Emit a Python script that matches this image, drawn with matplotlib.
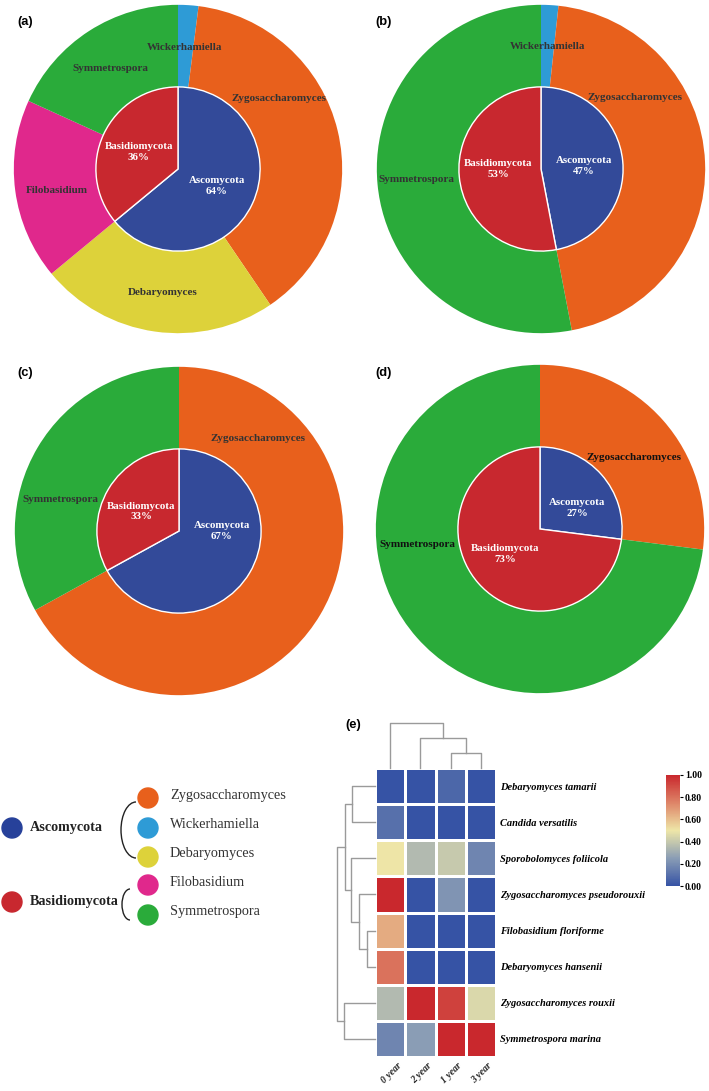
import numpy as np
import matplotlib
matplotlib.use('Agg')
import matplotlib.pyplot as plt
from matplotlib.colors import LinearSegmentedColormap
from matplotlib.patches import Circle, Arc

# ---- data ----
phyla = ['Ascomycota', 'Basidiomycota']
genera = ['Zygosaccharomyces', 'Wickerhamiella', 'Debaryomyces', 'Filobasidium', 'Symmetrospora']
genus_phylum = ['Ascomycota', 'Ascomycota', 'Ascomycota', 'Basidiomycota', 'Basidiomycota']

# outer ring, clockwise from 12 o'clock
a_outer_names = ['Wickerhamiella', 'Zygosaccharomyces', 'Debaryomyces', 'Filobasidium', 'Symmetrospora']
a_outer_vals = [2.0, 38.5, 23.5, 17.8, 18.2]
a_inner_vals = [64, 36]

b_outer_names = ['Wickerhamiella', 'Zygosaccharomyces', 'Symmetrospora']
b_outer_vals = [1.7, 45.3, 53.0]
b_inner_vals = [47, 53]

c_outer_names = ['Zygosaccharomyces', 'Symmetrospora']
c_outer_vals = [67, 33]
c_inner_vals = [67, 33]

d_outer_names = ['Zygosaccharomyces', 'Symmetrospora']
d_outer_vals = [27, 73]
d_inner_vals = [27, 73]

species = ['Debaryomyces tamarii', 'Candida versatilis', 'Sporobolomyces foliicola',
           'Zygosaccharomyces pseudorouxii', 'Filobasidium floriforme', 'Debaryomyces hansenii',
           'Zygosaccharomyces rouxii', 'Symmetrospora marina']
years = ['0 year', '2 year', '1 year', '3 year']
abund = [[0.00, 0.00, 0.07, 0.00],
         [0.10, 0.00, 0.00, 0.00],
         [0.50, 0.35, 0.40, 0.17],
         [1.00, 0.00, 0.22, 0.00],
         [0.65, 0.00, 0.00, 0.00],
         [0.80, 0.00, 0.00, 0.00],
         [0.35, 1.00, 0.93, 0.45],
         [0.17, 0.25, 1.00, 1.00]]

# clustering (child a, child b, height); leaves numbered in display order
row_merges = [(4, 5, 8), (3, 8, 16), (0, 1, 23), (2, 9, 24), (10, 11, 30), (6, 7, 31), (12, 13, 38)]
col_merges = [(2, 3, 15), (1, 4, 30), (0, 5, 45)]

colors = {'Zygosaccharomyces': '#E8601C', 'Wickerhamiella': '#2E9BD6', 'Debaryomyces': '#DDD23A',
          'Filobasidium': '#E0288C', 'Symmetrospora': '#2AAB3A',
          'Ascomycota': '#334A99', 'Basidiomycota': '#C8282F'}

serif = 'Liberation Serif'
W, H = 709, 1091
fig = plt.figure(figsize=(W / 100, H / 100), dpi=100)


def px_axes(cx, cy, r):
    return fig.add_axes([(cx - r) / W, 1 - (cy + r) / H, 2 * r / W, 2 * r / H])


def donut(ax, outer_names, outer_vals, inner_vals, out_ang, in_ang, lab_color):
    ax.pie(outer_vals, radius=1, startangle=90, counterclock=False,
           colors=[colors[n] for n in outer_names], wedgeprops=dict(width=0.5, linewidth=0))
    ax.pie(inner_vals, radius=0.5, startangle=90, counterclock=False,
           colors=[colors[p] for p in phyla], wedgeprops=dict(edgecolor='white', linewidth=1))
    for name, (ang, r) in zip(outer_names, out_ang):
        t = np.deg2rad(ang)
        ax.text(r * np.sin(t), r * np.cos(t), name, ha='center', va='center', fontsize=8,
                fontweight='bold', family=serif, color=lab_color)
    for p, v, ang in zip(phyla, inner_vals, in_ang):
        t = np.deg2rad(ang)
        ax.text(0.26 * np.sin(t), 0.26 * np.cos(t), f'{p}\n{v:.0f}%', ha='center', va='center',
                fontsize=7.8, fontweight='bold', family=serif, color='white', linespacing=1.25)
    ax.set_xlim(-1.005, 1.005)
    ax.set_ylim(-1.005, 1.005)
    ax.set_aspect('equal')
    ax.axis('off')


ax_a = px_axes(178, 169, 165)
donut(ax_a, a_outer_names, a_outer_vals, a_inner_vals,
      [(3, 0.74), (55, 0.75), (187, 0.76), (260, 0.75), (326, 0.74)], [114, 293], '#333333')
ax_b = px_axes(541, 169, 165)
donut(ax_b, b_outer_names, b_outer_vals, b_inner_vals,
      [(3, 0.75), (52.5, 0.72), (265, 0.76)], [86, 270], '#333333')
ax_c = px_axes(179, 531, 165)
donut(ax_c, c_outer_names, c_outer_vals, c_inner_vals,
      [(40.6, 0.74), (285, 0.75)], [90, 297], '#333333')
ax_d = px_axes(540, 529, 165)
donut(ax_d, d_outer_names, d_outer_vals, d_inner_vals,
      [(53, 0.72), (263, 0.75)], [60, 234], '#111111')

# ---- overlay for panel letters and legend ----
ov = fig.add_axes([0, 0, 1, 1])
ov.set_xlim(0, W)
ov.set_ylim(H, 0)
ov.axis('off')
ov.patch.set_alpha(0)
for lab, x, y in [('(a)', 17, 22), ('(b)', 375, 22), ('(c)', 17, 373), ('(d)', 375, 373), ('(e)', 345, 725)]:
    ov.text(x, y, lab, ha='left', va='center', fontsize=9.3, fontweight='bold', family='Liberation Sans')

phy_y = {'Ascomycota': 828, 'Basidiomycota': 902}
for p in phyla:
    ov.add_patch(Circle((12, phy_y[p]), 10, color=colors[p] if p == 'Basidiomycota' else '#27419A'))
    ov.text(30, phy_y[p], p, ha='left', va='center', fontsize=10.2, fontweight='bold',
            family=serif, color='#222222')
gen_y = [798, 828, 857, 885, 915]
for g, y in zip(genera, gen_y):
    ov.add_patch(Circle((148, y), 10, color=colors[g]))
    ov.text(170, y - 3, g, ha='left', va='center', fontsize=10.3, family=serif, color='#333333')
ov.add_patch(Arc((136, 830), 30, 56, theta1=90, theta2=270, color='#222222', lw=1))
ov.add_patch(Arc((130, 904.5), 16, 31, theta1=90, theta2=270, color='#222222', lw=1))

# ---- heatmap ----
cmap = LinearSegmentedColormap.from_list('fung', ['#3653A5', '#8A9DB5', '#EEE6A8', '#DE8468', '#C9282D'])
hx0, hx1, hy0, hy1 = 375, 496, 768, 1057
axh = fig.add_axes([hx0 / W, 1 - hy1 / H, (hx1 - hx0) / W, (hy1 - hy0) / H])
mesh = axh.pcolormesh(np.array(abund), cmap=cmap, vmin=0, vmax=1, edgecolors='white', linewidth=0.8)
axh.set_ylim(len(species), 0)
axh.set_xlim(0, len(years))
axh.yaxis.tick_right()
axh.set_yticks(np.arange(len(species)) + 0.5)
axh.set_yticklabels(species, fontsize=7.5, fontweight='bold', style='italic', family=serif)
axh.tick_params(axis='y', length=0, pad=3)
axh.set_xticks([])
for i, yr in enumerate(years):
    axh.text(i + 0.72, len(species) + 0.12, yr, rotation=45, rotation_mode='anchor', ha='right', va='top',
             fontsize=7, fontweight='bold', style='italic', family=serif, color='#222222')
for s in axh.spines.values():
    s.set_visible(False)


def dendro(ax, n, merges, vertical):
    pos = {i: i + 0.5 for i in range(n)}
    hgt = {i: 0 for i in range(n)}
    for k, (a, b, h) in enumerate(merges):
        xs = [pos[a], pos[a], pos[b], pos[b]]
        ys = [hgt[a], h, h, hgt[b]]
        if vertical:
            ax.plot(xs, ys, color='#9A9A9A', lw=1, clip_on=False)
        else:
            ax.plot(ys, xs, color='#9A9A9A', lw=1, clip_on=False)
        pos[n + k] = (pos[a] + pos[b]) / 2
        hgt[n + k] = h
    ax.axis('off')


axc = fig.add_axes([hx0 / W, 1 - hy0 / H, (hx1 - hx0) / W, 45 / H])
dendro(axc, len(years), col_merges, True)
axc.set_xlim(0, len(years))
axc.set_ylim(0, 45)

axr = fig.add_axes([337 / W, 1 - hy1 / H, (hx0 - 337) / W, (hy1 - hy0) / H])
dendro(axr, len(species), row_merges, False)
axr.set_xlim(38, 0)
axr.set_ylim(len(species), 0)

cax = fig.add_axes([666 / W, 1 - 886 / H, 14 / W, 111 / H])
cb = fig.colorbar(mesh, cax=cax, ticks=[0, 0.2, 0.4, 0.6, 0.8, 1.0], format='%.2f')
cb.outline.set_visible(False)
cax.tick_params(length=2.5, width=0.8, pad=1)
for t in cax.get_yticklabels():
    t.set_fontsize(7)
    t.set_fontweight('bold')
    t.set_family(serif)

fig.savefig('out.png', dpi=100)
